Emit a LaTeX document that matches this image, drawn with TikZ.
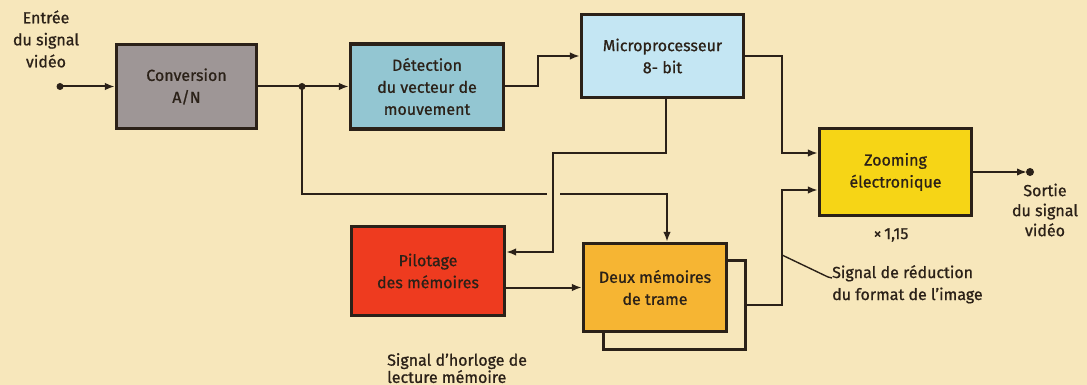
\documentclass[tikz,border=0pt]{standalone}
\usepackage{fontspec}
\setmainfont{Fira Sans}[FakeBold=0.9]
\usetikzlibrary{arrows.meta}
\definecolor{fond}{RGB}{247,231,187}
\definecolor{encre}{RGB}{43,33,24}
\definecolor{gris}{RGB}{158,150,150}
\definecolor{turquoise}{RGB}{147,198,210}
\definecolor{ciel}{RGB}{196,230,243}
\definecolor{jaune}{RGB}{246,213,22}
\definecolor{rouge}{RGB}{238,59,31}
\definecolor{ambre}{RGB}{246,181,51}

\begin{document}
\begin{tikzpicture}[x=1pt, y=-1pt,
    bloc/.style={draw=encre, line width=3.2pt, inner sep=0pt, align=center,
      text=encre, font=\fontsize{16}{22}\selectfont},
    trait/.style={draw=encre, line width=2pt},
    liaison/.style={trait, -{Latex[length=10pt,width=7.5pt]}},
    legende/.style={text=encre, inner sep=0pt, font=\fontsize{16}{22}\selectfont}]
  \fill[fond] (0,0) rectangle (1087,385);
  \useasboundingbox (0,0) rectangle (1087,385);

  % blocs
  \node[bloc, fill=gris, minimum width=140pt, minimum height=84pt] (conv)
    at (186.5,86.5) {Conversion\\A/N};
  \node[bloc, fill=turquoise, minimum width=153pt, minimum height=85pt] (detect)
    at (427,86.5) {Détection\\du vecteur de\\mouvement};
  \node[bloc, fill=ciel, minimum width=162pt, minimum height=83pt] (micro)
    at (662.5,56) {Microprocesseur\\8- bit};
  \node[bloc, fill=jaune, minimum width=152pt, minimum height=87pt] (zoom)
    at (895.5,172) {Zooming\\électronique};
  \node[bloc, fill=rouge, minimum width=153pt, minimum height=89pt] (pilot)
    at (428,271) {Pilotage\\des mémoires};
  \node[bloc, fill=fond, minimum width=142pt, minimum height=89pt] (ombre)
    at (674.5,305) {};
  \node[bloc, fill=ambre, minimum width=143pt, minimum height=88pt] (trame)
    at (655,287.5) {Deux mémoires\\de trame};

  % textes
  \node[legende, align=center] (entreetxt) at (46,39) {Entrée\\du signal\\vidéo};
  \node[legende, align=center, font=\fontsize{16}{20}\selectfont] (sortietxt)
    at (1045,210) {Sortie\\du signal\\vidéo};
  \node[legende] (facteur) at (891,235) {×\,1,15};
  \node[legende, align=left, anchor=north west] (reduction) at (832,265)
    {Signal de réduction\\du format de l’image};
  \node[legende, align=left, anchor=north west, font=\fontsize{16}{16}\selectfont]
    (horloge) at (387,353) {Signal d’horloge de\\lecture mémoire};

  % liaisons
  \coordinate (entree) at (60,86.5);
  \coordinate (jonction) at (302,86.5);
  \coordinate (saut) at (547,194);
  \coordinate (reprise) at (560,194);
  \coordinate (coude) at (553,153);
  \coordinate (sortie) at (1030,172);
  \coordinate (repere) at (782,255);
  \draw[liaison] (entree) -- (conv.west);
  \draw[liaison] (conv.east) -- (detect.west);
  \draw[liaison] (detect.east) -- ++(33,0) |- (micro.west);
  \draw[liaison] (micro.east) -- ++(37,0) |- ([yshift=19pt]zoom.west);
  \draw[liaison] ([xshift=3pt]micro.south) |- (coude) |- ([yshift=19pt]pilot.east);
  \draw[trait] (jonction) |- (saut);
  \draw[liaison] (reprise) -| ([xshift=12pt]trame.north);
  \draw[liaison] (pilot.east |- trame.west) -- (trame.west);
  \draw[liaison] (ombre.east) -- ++(35,0) |- ([yshift=-18pt]zoom.west);
  \draw[liaison, shorten >=3pt] (zoom.east) -- (sortie);
  \draw[trait, line width=1.4pt] (repere) -- ([shift={(-4pt,-12pt)}]reduction.north west)
    -- ([shift={(0pt,-13pt)}]reduction.north west);
  \fill[encre] (entree) circle (3.5pt) (jonction) circle (3.5pt) (sortie) circle (4pt);
\end{tikzpicture}
\end{document}
